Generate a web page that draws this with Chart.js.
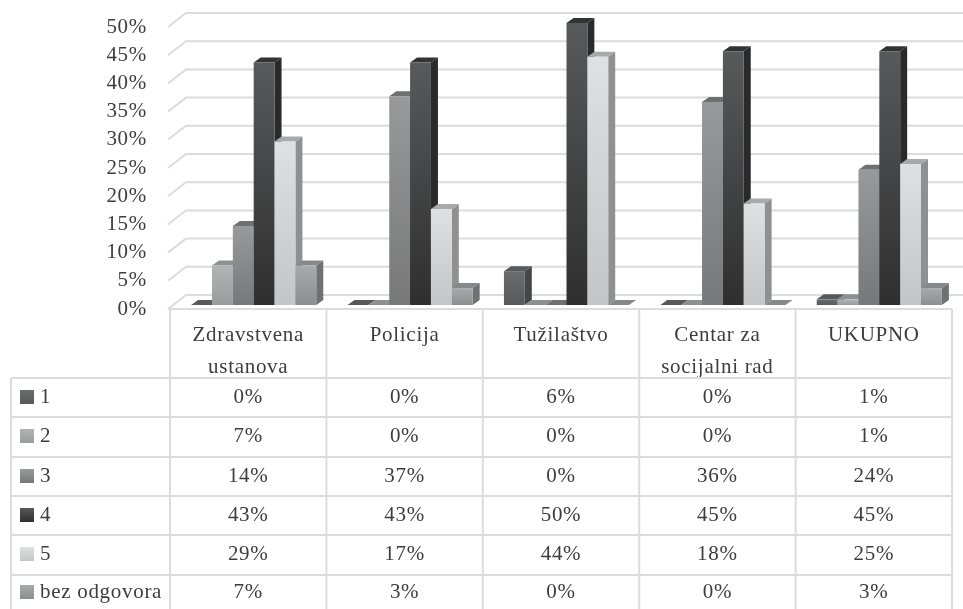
<!DOCTYPE html>
<html>
<head>
<meta charset="utf-8">
<style>html,body{margin:0;padding:0;background:#fff}canvas{display:block}</style>
<script src="https://cdn.jsdelivr.net/npm/chart.js@4"></script>
</head>
<body>
<canvas id="c" width="963" height="609"></canvas>
<script>
const categories = [["Zdravstvena", "ustanova"], "Policija", "Tužilaštvo", ["Centar za", "socijalni rad"], "UKUPNO"];
const seriesNames = ["1", "2", "3", "4", "5", "bez odgovora"];
const values1 = [0, 0, 6, 0, 1];
const values2 = [7, 0, 0, 0, 1];
const values3 = [14, 37, 0, 36, 24];
const values4 = [43, 43, 50, 45, 45];
const values5 = [29, 17, 44, 18, 25];
const valuesNone = [7, 3, 0, 0, 3];
const allValues = [values1, values2, values3, values4, values5, valuesNone];

// top of gradient, bottom of gradient, side face, top face
const shades = [
  ["#6a6b6d", "#58595b", "#454648", "#58595b"],
  ["#b2b3b5", "#9b9c9e", "#858688", "#8f9092"],
  ["#98999b", "#77787a", "#646567", "#6f7072"],
  ["#58595b", "#2f2f2f", "#2a2a2b", "#333334"],
  ["#dfe0e1", "#c4c5c7", "#8f9092", "#a8a9ab"],
  ["#a9aaac", "#8d8e90", "#6f7072", "#87888a"]
];

const FONT = '"Liberation Serif", serif';
const FONT_SIZE = 21;
const INK = "#3d3d3d";
const RULE = "#dcdcdd";
const WALL = { dx: 18, dy: -14 };
const BAR_SHIFT = { dx: 5.5, dy: -4 };
const BAR_DEPTH = { dx: 7, dy: -5 };
const TABLE_LEFT = 11;
const ROW_LINES = [378, 417, 457, 496, 535, 575];
const ROW_MIDDLES = [397, 436, 476, 515, 554, 592];

function line(ctx, pts) {
  ctx.beginPath();
  pts.forEach((p, i) => i ? ctx.lineTo(p[0], p[1]) : ctx.moveTo(p[0], p[1]));
  ctx.stroke();
}
function poly(ctx, pts, fill) {
  ctx.fillStyle = fill;
  ctx.beginPath();
  pts.forEach((p, i) => i ? ctx.lineTo(p[0], p[1]) : ctx.moveTo(p[0], p[1]));
  ctx.closePath();
  ctx.fill();
}
function faceGradient(ctx, yTop, yBottom, top, bottom) {
  const g = ctx.createLinearGradient(0, yTop, 0, yBottom);
  g.addColorStop(0, top);
  g.addColorStop(1, bottom);
  return g;
}

// Back wall gridlines, the floor, the data table, and bars painted series by
// series so that each later bar covers the side face of the one before it
const frame = {
  id: "frame",
  beforeLayout(chart) { chart.ctx.letterSpacing = "0.7px"; },
  beforeDatasetsDraw(chart) {
    const { ctx, chartArea: a, scales: { x, y } } = chart;
    ctx.save();
    ctx.strokeStyle = RULE;
    ctx.lineWidth = 2;
    y.ticks.forEach(t => {
      const py = y.getPixelForValue(t.value);
      line(ctx, [[a.left - 2, py], [a.left - 2 + WALL.dx, py + WALL.dy], [chart.width, py + WALL.dy]]);
    });
    // table rules
    const cols = categories.map((_, i) => a.left + (a.right - a.left) * i / categories.length).concat(a.right);
    line(ctx, [[a.left, a.bottom], [a.right, a.bottom]]);
    cols.forEach(cx => line(ctx, [[cx, a.bottom], [cx, chart.height]]));
    line(ctx, [[TABLE_LEFT, ROW_LINES[0]], [TABLE_LEFT, chart.height]]);
    ROW_LINES.forEach(ry => line(ctx, [[TABLE_LEFT, ry], [a.right, ry]]));
    // table text and legend keys
    ctx.font = FONT_SIZE + "px " + FONT;
    ctx.textBaseline = "middle";
    seriesNames.forEach((name, r) => {
      const my = ROW_MIDDLES[r];
      ctx.fillStyle = faceGradient(ctx, my - 7, my + 7, shades[r][0], shades[r][1]);
      ctx.fillRect(20, my - 7, 14, 14);
      ctx.fillStyle = INK;
      ctx.textAlign = "left";
      ctx.fillText(name, 40, my);
      ctx.textAlign = "center";
      allValues[r].forEach((v, c) => ctx.fillText(v + "%", x.getPixelForTick(c), my));
    });
    ctx.restore();

    ctx.save();
    ctx.translate(BAR_SHIFT.dx, BAR_SHIFT.dy);
    chart.getSortedVisibleDatasetMetas().forEach(meta => {
      const s = shades[meta.index];
      const d = BAR_DEPTH;
      meta.data.forEach(bar => {
        const l = bar.x - bar.width / 2, r = bar.x + bar.width / 2;
        const t = bar.y, b = bar.base;
        if (b > t) poly(ctx, [[r, t], [r + d.dx, t + d.dy], [r + d.dx, b + d.dy], [r, b]], s[2]);
        poly(ctx, [[l, t], [l + d.dx, t + d.dy], [r + d.dx, t + d.dy], [r, t]], s[3]);
      });
      meta.controller.draw();
    });
    ctx.restore();
    return false;
  }
};

const datasets = seriesNames.map((name, i) => ({
  label: name,
  data: allValues[i],
  backgroundColor(ctx) {
    const chart = ctx.chart;
    if (!chart.chartArea || ctx.parsed === undefined) return shades[i][1];
    const top = chart.scales.y.getPixelForValue(ctx.parsed.y);
    return faceGradient(chart.ctx, top, chart.chartArea.bottom, shades[i][0], shades[i][1]);
  },
  borderWidth: 0
}));

new Chart(document.getElementById("c"), {
  type: "bar",
  data: { labels: categories, datasets },
  plugins: [frame],
  options: {
    responsive: false,
    animation: false,
    layout: { padding: { top: 27, right: 11, left: 0, bottom: 0 } },
    datasets: { bar: { barPercentage: 1, categoryPercentage: 0.8 } },
    plugins: { legend: { display: false }, title: { display: false }, tooltip: { enabled: false } },
    scales: {
      x: {
        grid: { display: false },
        border: { display: false },
        afterFit(s) { s.height = 300; s.paddingLeft = 0; s.paddingRight = 0; },
        ticks: {
          color: INK, padding: 2, maxRotation: 0, autoSkip: false,
          font: { family: FONT, size: FONT_SIZE, lineHeight: 1.55 }
        }
      },
      y: {
        min: 0, max: 50,
        grid: { display: false },
        border: { display: false },
        afterFit(s) { s.width = 170; s.paddingTop = 0; s.paddingBottom = 0; },
        ticks: {
          stepSize: 5, color: INK, padding: 15,
          font: { family: FONT, size: FONT_SIZE },
          callback: v => v + "%"
        }
      }
    }
  }
});
</script>
</body>
</html>
